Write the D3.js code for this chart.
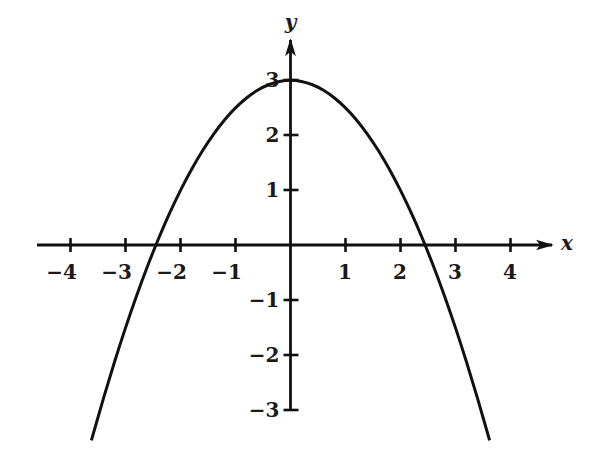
<!DOCTYPE html>
<html>
<head>
<meta charset="utf-8">
<script src="https://cdn.jsdelivr.net/npm/d3@7"></script>
<style>
body{margin:0;background:#fff;}
text{font-family:"DejaVu Serif","Liberation Serif",serif;fill:#1a1a1a;}
</style>
</head>
<body>
<div class="chart"></div>
<script>
// tick values and the sampled curve y = 3 - x^2/2
const xTicks = [-4, -3, -2, -1, 1, 2, 3, 4];
const yTicks = [-3, -2, -1, 1, 2, 3];
const curveX = [-3.62,-3.4,-3.2,-3,-2.8,-2.6,-2.4,-2.2,-2,-1.8,-1.6,-1.4,-1.2,-1,-0.8,-0.6,-0.4,-0.2,0,0.2,0.4,0.6,0.8,1,1.2,1.4,1.6,1.8,2,2.2,2.4,2.6,2.8,3,3.2,3.4,3.62];
const curveY = [-3.552,-2.78,-2.12,-1.5,-0.92,-0.38,0.12,0.58,1,1.38,1.72,2.02,2.28,2.5,2.68,2.82,2.92,2.98,3,2.98,2.92,2.82,2.68,2.5,2.28,2.02,1.72,1.38,1,0.58,0.12,-0.38,-0.92,-1.5,-2.12,-2.78,-3.552];

const width = 592, height = 462;
const svg = d3.select(".chart").append("svg")
    .attr("width", width)
    .attr("height", height);

const xScale = d3.scaleLinear().domain([-4, 4]).range([70.5, 510.5]);
const yScale = d3.scaleLinear().domain([-3, 3]).range([410, 80]);

svg.append("defs").append("marker")
    .attr("id", "arrow")
    .attr("viewBox", "0 0 10 10")
    .attr("refX", 9).attr("refY", 5)
    .attr("markerWidth", 18).attr("markerHeight", 18)
    .attr("markerUnits", "userSpaceOnUse")
    .attr("orient", "auto")
    .append("path")
    .attr("d", "M0,2 L10,5 L0,8 L2.5,5 Z")
    .attr("fill", "#111");

// x axis
svg.append("line")
    .attr("x1", 37).attr("x2", 552)
    .attr("y1", yScale(0)).attr("y2", yScale(0))
    .attr("stroke", "#111").attr("stroke-width", 2.8)
    .attr("marker-end", "url(#arrow)");
// y axis
svg.append("line")
    .attr("x1", xScale(0)).attr("x2", xScale(0))
    .attr("y1", yScale(-3)).attr("y2", 40)
    .attr("stroke", "#111").attr("stroke-width", 2.8)
    .attr("marker-end", "url(#arrow)");

svg.selectAll(".xtick")
    .data(xTicks)
    .enter().append("line")
    .attr("class", "xtick")
    .attr("x1", d => xScale(d)).attr("x2", d => xScale(d))
    .attr("y1", yScale(0) - 7).attr("y2", yScale(0) + 7)
    .attr("stroke", "#111").attr("stroke-width", 2.6);

svg.selectAll(".xlabel")
    .data(xTicks)
    .enter().append("text")
    .attr("class", "xlabel")
    .attr("x", d => xScale(d) + 6.5)
    .attr("y", yScale(0) + 34)
    .attr("text-anchor", "end")
    .attr("font-size", 20)
    .attr("font-weight", "bold")
    .text(d => d < 0 ? "\u2212" + Math.abs(d) : d);

svg.selectAll(".ytick")
    .data(yTicks)
    .enter().append("line")
    .attr("class", "ytick")
    .attr("x1", xScale(0) - 7).attr("x2", xScale(0) + 8)
    .attr("y1", d => yScale(d)).attr("y2", d => yScale(d))
    .attr("stroke", "#111").attr("stroke-width", 2.6);

svg.selectAll(".ylabel")
    .data(yTicks)
    .enter().append("text")
    .attr("class", "ylabel")
    .attr("x", xScale(0) - 11)
    .attr("y", d => yScale(d))
    .attr("dy", "0.36em")
    .attr("text-anchor", "end")
    .attr("font-size", 20)
    .attr("font-weight", "bold")
    .text(d => d < 0 ? "\u2212" + Math.abs(d) : d);

svg.append("text")
    .attr("x", 567).attr("y", 250)
    .attr("text-anchor", "middle")
    .attr("font-size", 20)
    .attr("font-style", "italic")
    .attr("font-weight", "bold")
    .text("x");

svg.append("text")
    .attr("x", xScale(0)).attr("y", 29)
    .attr("text-anchor", "middle")
    .attr("font-size", 20)
    .attr("font-style", "italic")
    .attr("font-weight", "bold")
    .text("y");

const line = d3.line()
    .x(d => xScale(d[0]))
    .y(d => yScale(d[1]))
    .curve(d3.curveBasis);

svg.append("path")
    .datum(d3.zip(curveX, curveY))
    .attr("d", line)
    .attr("fill", "none")
    .attr("stroke", "#111")
    .attr("stroke-width", 3);
</script>
</body>
</html>
